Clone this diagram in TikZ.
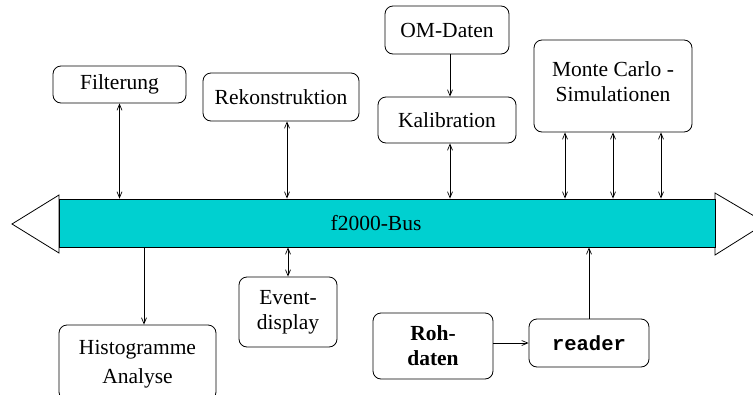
\documentclass[tikz,border=0pt]{standalone}
\usepackage{fontspec}
\setmainfont{Liberation Serif}
\setmonofont{Liberation Mono}
\usetikzlibrary{arrows.meta}

\definecolor{busfill}{RGB}{0,208,208}
\tikzset{
	box/.style={draw, rounded corners=8pt, line width=0.8pt, align=center},
	link/.style={line width=0.7pt},
	>={Straight Barb[length=6pt,width=5pt]}
}

\begin{document}
\begin{tikzpicture}[x=1pt, y=-1pt, font=\fontsize{21.5}{25}\selectfont]
	\useasboundingbox (0,0) rectangle (753,394);
	\clip (0,0) rectangle (753,394);
	% bus with its two end arrows
	\filldraw[fill=white, line width=0.8pt] (59,195) -- (12,224) -- (59,253) -- cycle;
	\filldraw[fill=white, line width=0.8pt] (715,193) -- (766,223) -- (715,255) -- cycle;
	\node[draw, fill=busfill, line width=0.8pt, minimum width=656pt, minimum height=48pt, inner sep=0pt,
		label={[xshift=-11pt]center:f2000-Bus}] (bus) at (387,223) {};
	% boxes above the bus
	\node[box, minimum width=133pt, minimum height=37pt] (filt) at (119.5,84.5) {Filterung};
	\node[box, minimum width=156pt, minimum height=48pt] (rek) at (281,97) {Rekonstruktion};
	\node[box, minimum width=124pt, minimum height=48pt] (om) at (447,30) {OM-Daten};
	\node[box, minimum width=138pt, minimum height=46pt] (kal) at (447,120) {Kalibration};
	\node[box, minimum width=158pt, minimum height=92pt] (mc) at (613,86) {};
	\node[align=center, inner sep=0pt] (mctext) at (613,82) {Monte Carlo -\\Simulationen};
	% boxes below the bus
	\node[box, minimum width=157pt, minimum height=75pt] (hist) at (137.5,362.5) {};
	\node[align=center, inner sep=0pt] (histtext) at (137.5,364) {Histogramme\\[4pt]Analyse};
	\node[box, minimum width=98pt, minimum height=70pt, inner sep=0pt] (ev) at (288,312) {Event-\\display};
	\node[box, minimum width=120pt, minimum height=66pt, inner sep=0pt, font=\fontsize{21.5}{25}\selectfont\bfseries] (roh) at (433,346) {Roh-\\daten};
	\node[box, minimum width=120pt, minimum height=48pt, font=\fontsize{20.5}{25}\selectfont\ttfamily\bfseries] (reader) at (589,343) {reader};
	% connections
	\draw[link, <->] (filt.south) -- (filt.south |- bus.north);
	\draw[link, <->] ([xshift=6pt]rek.south) -- ([xshift=6pt]rek.south |- bus.north);
	\draw[link, ->] ([xshift=3pt]om.south) -- ([xshift=3pt]kal.north);
	\draw[link, <->] ([xshift=3pt]kal.south) -- ([xshift=3pt]kal.south |- bus.north);
	\foreach \dx in {-48,0,48}
		\draw[link, <->] ([xshift=\dx pt]mc.south) -- ([xshift=\dx pt]mc.south |- bus.north);
	\draw[link, ->] ([xshift=6.5pt]hist.north |- bus.south) -- ([xshift=6.5pt]hist.north);
	\draw[link, <->] (ev.north |- bus.south) -- (ev.north);
	\draw[link, ->] (roh.east |- reader.west) -- (reader.west);
	\draw[link, ->] (reader.north) -- (reader.north |- bus.south);
\end{tikzpicture}
\end{document}
